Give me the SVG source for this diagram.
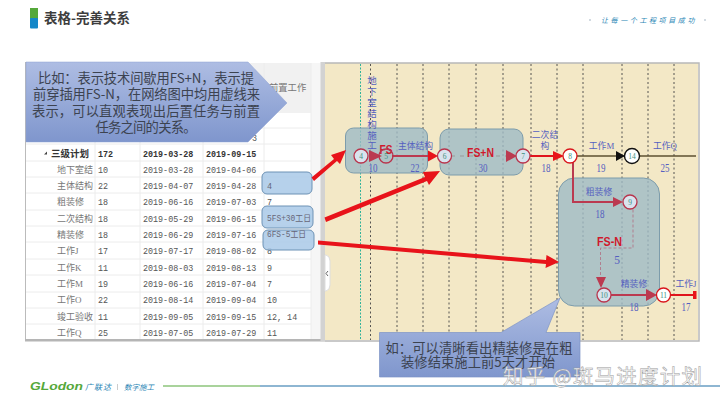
<svg xmlns="http://www.w3.org/2000/svg" width="720" height="405" viewBox="0 0 720 405">
<style>
.c{font-family:"Liberation Serif","Noto Sans CJK SC",serif;font-size:9px;fill:#777}
.d{font-family:"Liberation Mono","DejaVu Sans Mono",monospace;font-size:8.4px;fill:#555}
.h{font-weight:bold;fill:#333}
.b{font-family:"Liberation Serif","Noto Sans CJK SC",serif;font-size:8.8px;fill:#5560c0;text-anchor:middle}
.u{font-family:"Liberation Serif",serif;font-size:11.5px;fill:#5560c0;text-anchor:middle}
.k{font-family:"Noto Sans CJK SC",sans-serif;font-size:13.3px;fill:#3c4350;text-anchor:middle}
.r{font-family:"Liberation Sans",sans-serif;font-weight:bold;font-size:12px;fill:#d0182c;text-anchor:middle}
.g{stroke:#ececec;stroke-width:1;fill:none}
.v{stroke:#444;stroke-width:0.900;stroke-dasharray:2 2.500;fill:none}
.m{fill:#9dbac6;fill-opacity:.8;stroke:#7d9cab;stroke-width:1}
.p{fill:#a9c9e8;stroke:#6d92b5;stroke-width:1;fill-opacity:.85}
.o{fill:#d9e3ee;stroke:#b9344c;stroke-width:1.300}
.w{fill:#fff;stroke:#d9161c;stroke-width:1.300}
.t{font-family:"Liberation Serif",serif;font-size:7.500px;text-anchor:middle;fill:#3f8f7f}
.l{fill:none;stroke:#e0141c;stroke-width:2}
.q{fill:none;stroke:#bb3a50;stroke-width:2}
.a{fill:#bb3a50}
.f{fill:#e8131a}
</style>
<defs>
<linearGradient id="cg" x1="0" y1="0" x2="0" y2="1"><stop offset="0" stop-color="#aebde3"/><stop offset="1" stop-color="#7f96cd"/></linearGradient>
</defs>
<rect width="720" height="405" fill="#fff"/>
<g id="header">
<rect x="30" y="8" width="8" height="11" fill="#55a83a"/>
<rect x="30" y="18" width="8" height="10.500" rx="1" fill="#1487c8"/>
<text x="44" y="23" font-family="'Noto Sans CJK SC',sans-serif" font-weight="bold" font-size="13.500" fill="#3d3d3d" textLength="86">表格-完善关系</text>
<text x="601" y="23" font-family="'Noto Sans CJK SC',sans-serif" font-style="italic" font-size="7" letter-spacing="2.600" fill="#2a86b5">让每一个工程项目成功</text>
<circle cx="590" cy="20" r="0.800" fill="#9ab"/><circle cx="705" cy="20" r="0.800" fill="#9ab"/>
</g>
<g id="table">
<rect x="25" y="62" width="297" height="279" fill="#fff"/>
<rect x="26" y="63" width="295" height="50" fill="#f1f1f1"/>
<rect x="311" y="63" width="10" height="277" fill="#f6f6f6"/>
<path d="M25.500 62V341" stroke="#bbb" fill="none"/>
<rect x="25" y="339" width="300" height="2.500" fill="#b5b5b5"/>
<rect x="320.500" y="62" width="4.500" height="279" fill="#d2d2d2"/>
<path class="g" d="M26 128H311M26 144H311M26 161H311M26 177H311M26 193H311M26 210H311M26 226H311M26 242H311M26 259H311M26 275H311M26 292H311M26 308H311M26 324H311M95 113V339M140 113V339M203 113V339M264 63V339M311 63V339"/>
<text class="c" x="269" y="91" style="font-size:9.300px">前置工作</text>
<text class="d" x="252" y="141">3</text>
<path d="M44 154.500L47 151.500V154.500Z" fill="#444"/>
<text class="c h" x="51" y="157" style="font-size:9.500px">三级计划</text>
<text class="d h" x="98" y="157">172</text>
<text class="d h" x="143" y="157">2019-03-28</text>
<text class="d h" x="206" y="157">2019-09-15</text>
<text class="c" x="57" y="173">地下室结</text><text class="d" x="98" y="173">10</text><text class="d" x="143" y="173">2019-03-28</text><text class="d" x="206" y="173">2019-04-06</text>
<text class="c" x="57" y="189">主体结构</text><text class="d" x="98" y="189">22</text><text class="d" x="143" y="189">2019-04-07</text><text class="d" x="206" y="189">2019-04-28</text>
<text class="c" x="57" y="205">粗装修</text><text class="d" x="98" y="205">18</text><text class="d" x="143" y="205">2019-06-16</text><text class="d" x="206" y="205">2019-07-03</text><text class="d" x="267" y="205">7</text>
<text class="c" x="57" y="222">二次结构</text><text class="d" x="98" y="222">18</text><text class="d" x="143" y="222">2019-05-29</text><text class="d" x="206" y="222">2019-06-15</text>
<text class="c" x="57" y="238">精装修</text><text class="d" x="98" y="238">18</text><text class="d" x="143" y="238">2019-06-29</text><text class="d" x="206" y="238">2019-07-16</text>
<text class="c" x="57" y="254">工作J</text><text class="d" x="98" y="254">17</text><text class="d" x="143" y="254">2019-07-17</text><text class="d" x="206" y="254">2019-08-02</text><text class="d" x="267" y="254">8</text>
<text class="c" x="57" y="271">工作K</text><text class="d" x="98" y="271">11</text><text class="d" x="143" y="271">2019-08-03</text><text class="d" x="206" y="271">2019-08-13</text><text class="d" x="267" y="271">9</text>
<text class="c" x="57" y="287">工作M</text><text class="d" x="98" y="287">19</text><text class="d" x="143" y="287">2019-06-16</text><text class="d" x="206" y="287">2019-07-04</text><text class="d" x="267" y="287">7</text>
<text class="c" x="57" y="303">工作O</text><text class="d" x="98" y="303">22</text><text class="d" x="143" y="303">2019-08-14</text><text class="d" x="206" y="303">2019-09-04</text><text class="d" x="267" y="303">10</text>
<text class="c" x="57" y="320">竣工验收</text><text class="d" x="98" y="320">11</text><text class="d" x="143" y="320">2019-09-05</text><text class="d" x="206" y="320">2019-09-15</text><text class="d" x="267" y="320">12, 14</text>
<text class="c" x="57" y="336">工作Q</text><text class="d" x="98" y="336">25</text><text class="d" x="143" y="336">2019-07-05</text><text class="d" x="206" y="336">2019-07-29</text><text class="d" x="267" y="336">11</text>
</g>
<g id="chart">
<rect x="325" y="63" width="373" height="277" fill="#f3e8c6"/>
<path d="M325 63H699V341H325" fill="none" stroke="#b8b8b8" stroke-width="1.500"/>
<path class="v" d="M370.500 64V340M397 64V340M423 64V340M449 64V340M476 64V340M503 64V340M531 64V340M557 64V340M583 64V340M622 64V340M648 64V340M674 64V340"/>
<path d="M360.500 64V340" fill="none" stroke="#2fb39a" stroke-width="1" stroke-dasharray="2 1.500"/>
<path d="M325 255h1q4 1 4 6v24q0 5 -4 6h-1z" fill="#fff" stroke="#ddd"/>
<path d="M328 271L326 273.500L328 276" fill="none" stroke="#666"/>
</g>
<g id="highlights">
<rect class="m" x="345.500" y="128" width="82" height="45" rx="8"/>
<rect class="m" x="440" y="129" width="83" height="46" rx="9"/>
<rect class="m" x="558.500" y="178" width="101" height="128" rx="16"/>
<rect class="p" x="262" y="172" width="50" height="22" rx="5"/>
<rect class="p" x="262" y="206" width="51" height="22" rx="5"/>
<rect class="p" x="263" y="230" width="51" height="20" rx="5"/>
<text class="d" x="267" y="189" style="fill:#667">4</text>
<text class="d" x="267" y="221" style="fill:#667" textLength="44" lengthAdjust="spacingAndGlyphs">5FS+30<tspan font-family="Noto Sans CJK SC,sans-serif">工日</tspan></text>
<text class="d" x="267" y="237" style="fill:#667" textLength="39" lengthAdjust="spacingAndGlyphs">6FS-5<tspan font-family="Noto Sans CJK SC,sans-serif">工日</tspan></text>
</g>
<g id="connectors">
<path d="M573 156H696" fill="none" stroke="#5c5030" stroke-width="1.600"/>
<path class="q" d="M392 156H434"/>
<path class="a" d="M369 150L382 156L369 162Z"/>
<path class="f" d="M428 150.500L438 156L428 161.500Z"/>
<path d="M451 156H506" fill="none" stroke="#999" stroke-width="1" stroke-dasharray="4 5"/>
<path class="a" d="M506 150L517 156L506 162Z"/>
<path class="l" d="M530 156H556"/>
<path class="f" d="M553 151L564 156L553 161Z"/>
<path d="M616 151L625 156L616 161Z" fill="#111"/>
<path class="q" d="M573 162V202H616"/>
<path class="a" d="M613 197L623 202L613 207Z"/>
<path d="M633 209.500V248H600.500V278" fill="none" stroke="#b07f8f" stroke-width="1" stroke-dasharray="3 2"/>
<path class="a" d="M596 277H606L601 288Z"/>
<path class="q" d="M611 295H652"/>
<path class="a" d="M646 289L657 295L646 301Z"/>
<path class="l" d="M670 295H694"/>
<rect x="693" y="291" width="3.500" height="8" fill="#e8131a"/>
<path class="f" d="M311.500 177.500L334 159L331 155L346 150L340 164L337 161L314 181Z"/>
<path class="f" d="M324.500 217.500L425 177L423 172L440 171L429 185L427 181L326 222Z"/>
<path class="f" d="M318 240.500L546 260L546.500 255L559 262L545.500 268L546 264L318 244.500Z"/>
</g>
<g id="labels">
<text class="b" x="372" y="84" style="font-size:9.500px">地</text><text class="b" x="372" y="95" style="font-size:9.500px">下</text><text class="b" x="372" y="106" style="font-size:9.500px">室</text><text class="b" x="372" y="117" style="font-size:9.500px">结</text><text class="b" x="372" y="128" style="font-size:9.500px">构</text><text class="b" x="372" y="139" style="font-size:9.500px">施</text><text class="b" x="372" y="149" style="font-size:9.500px">工</text>
<text class="u" x="373" y="172" textLength="9" lengthAdjust="spacingAndGlyphs">10</text>
<text class="b" x="415.500" y="149">主体结构</text><text class="u" x="415" y="172" textLength="9" lengthAdjust="spacingAndGlyphs">22</text>
<text class="u" x="483" y="172" textLength="9" lengthAdjust="spacingAndGlyphs">30</text>
<text class="b" x="545" y="138">二次结</text><text class="b" x="545" y="149">构</text><text class="u" x="546" y="172" textLength="9" lengthAdjust="spacingAndGlyphs">18</text>
<text class="b" x="601.500" y="149">工作M</text><text class="u" x="601" y="172" textLength="9" lengthAdjust="spacingAndGlyphs">19</text>
<text class="b" x="665" y="149">工作Q</text><text class="u" x="665" y="172" textLength="9" lengthAdjust="spacingAndGlyphs">25</text>
<text class="b" x="599" y="195">粗装修</text><text class="u" x="600" y="218" textLength="9" lengthAdjust="spacingAndGlyphs">18</text>
<text class="u" x="617" y="264">5</text>
<text class="b" x="634" y="287">精装修</text><text class="u" x="634" y="311" textLength="9" lengthAdjust="spacingAndGlyphs">18</text>
<text class="b" x="686" y="287">工作J</text><text class="u" x="686" y="311" textLength="9" lengthAdjust="spacingAndGlyphs">17</text>
<text class="r" x="386" y="154" textLength="13" lengthAdjust="spacingAndGlyphs">FS</text>
<text class="r" x="480.500" y="157" textLength="27" lengthAdjust="spacingAndGlyphs">FS+N</text>
<text class="r" x="609.500" y="246" textLength="25" lengthAdjust="spacingAndGlyphs">FS-N</text>
</g>
<g id="n4"><circle class="o" cx="361" cy="156" r="7"/><text class="t" x="361" y="158.500">4</text></g>
<g id="n5"><circle class="o" cx="386" cy="156" r="7" fill-opacity="0"/><text class="t" x="386" y="158.500">5</text></g>
<g id="n6"><circle class="o" cx="444.500" cy="156" r="7"/><text class="t" x="444.500" y="158.500">6</text></g>
<g id="n7"><circle class="o" cx="523" cy="156" r="7"/><text class="t" x="523" y="158.500">7</text></g>
<g id="n8"><circle class="w" cx="570" cy="156" r="7"/><text class="t" x="570" y="158.500">8</text></g>
<g id="n14"><circle cx="632" cy="156" r="7.500" fill="#fff" stroke="#111" stroke-width="1.400"/><text class="t" x="632" y="158.500">14</text></g>
<g id="n9"><circle class="o" cx="630" cy="202" r="7"/><text class="t" x="630" y="204.500">9</text></g>
<g id="n10"><circle class="o" cx="604" cy="295" r="7"/><text class="t" x="604" y="297.500">10</text></g>
<g id="n11"><circle class="w" cx="663.500" cy="295" r="7"/><text class="t" x="663.500" y="297.500">11</text></g>
<g id="callout-top">
<path d="M26 62H248L287 103L248 142H26Z" fill="url(#cg)" stroke="#8ea2d2" stroke-width="0.500"/>
<text class="k" x="146" y="83" textLength="216">比如：表示技术间歇用FS+N，表示提</text>
<text class="k" x="146.500" y="99" textLength="227">前穿插用FS-N，在网络图中均用虚线来</text>
<text class="k" x="146" y="116" textLength="228">表示，可以直观表现出后置任务与前置</text>
<text class="k" x="146" y="132" textLength="101">任务之间的关系。</text>
</g>
<g id="callout-bottom">
<path d="M379.500 332.500H501L560 298L546 332.500H580V377H379.500Z" fill="url(#cg)" stroke="#7d93c5" stroke-width="0.700"/>
<text class="k" x="479" y="353" textLength="187">如：可以清晰看出精装修是在粗</text>
<text class="k" x="478" y="367" textLength="154">装修结束施工前5天才开始</text>
</g>
<g id="footer">
<text x="30" y="390" font-family="'Liberation Sans',sans-serif" font-weight="bold" font-style="italic" font-size="11" fill="#55a83a" textLength="53" lengthAdjust="spacingAndGlyphs">GLodon</text>
<text x="85" y="390" font-family="'Noto Sans CJK SC',sans-serif" font-style="italic" font-size="8" fill="#2a86b5" textLength="26">广联达</text>
<path d="M117.500 384V390" stroke="#aaa" stroke-width="0.600"/>
<text x="124" y="390" font-family="'Noto Sans CJK SC',sans-serif" font-style="italic" font-size="7.500" fill="#2a86b5" textLength="30">数字施工</text>
<path d="M163 386H260" stroke="#55a83a" stroke-width="1.200"/>
<path d="M260 386H720" stroke="#1f6fa6" stroke-width="1.200"/>
</g>
<text id="watermark" x="503" y="384" font-family="'Noto Sans CJK SC',sans-serif" font-size="20.500" fill="#fff" fill-opacity=".9" stroke="#999" stroke-width="0.500" textLength="199">知乎 @斑马进度计划</text>
</svg>
